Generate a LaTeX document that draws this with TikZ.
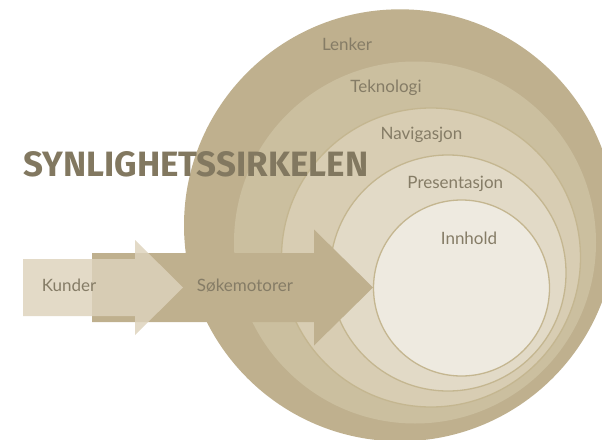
\documentclass[tikz,border=0pt]{standalone}
\usepackage{fontspec}
\setmainfont{Lato}
\definecolor{ringA}{HTML}{BFB08E}
\definecolor{ringB}{HTML}{CBBF9F}
\definecolor{ringC}{HTML}{D8CDB3}
\definecolor{ringD}{HTML}{E2DAC7}
\definecolor{ringE}{HTML}{EEEAE0}
\definecolor{ringline}{HTML}{C4B690}
\definecolor{kunderfill}{HTML}{DDD2BC}
\definecolor{labeltext}{HTML}{857C66}
\definecolor{titletext}{HTML}{827860}
\begin{document}
\begin{tikzpicture}[x=1pt,y=-1pt,
  ring/.style={circle, inner sep=0pt, outer sep=0pt},
  ringedge/.style={ring, draw=ringline, line width=1.3pt},
  lbl/.style={anchor=base, inner sep=0pt, text=labeltext, font=\fontsize{17}{17}\selectfont}]
\useasboundingbox (0,0) rectangle (602,439);
\clip (0,0) rectangle (602,439);
% rings
\node[ring, fill=ringA, minimum size=432pt] (lenkerring) at (400,225.3) {};
\node[ring, fill=ringB, minimum size=362pt] (teknologiring) at (415,242.5) {};
\node[ringedge, fill=ringC, minimum size=299pt] (navigasjonring) at (431,257.5) {};
\node[ringedge, fill=ringD, minimum size=236pt] (presentasjonring) at (448,273) {};
\node[ringedge, fill=ringE, minimum size=176pt] (innholdring) at (461.5,288) {};
% Søkemotorer arrow
\coordinate (sTailTop) at (92,253);
\coordinate (sTailBot) at (92,322);
\coordinate (sTip) at (innholdring.west);
\fill[ringA] (sTailTop) -- (314,253) -- (314,229.5) -- (373,287.5) -- (314,345.5) -- (314,322) -- (sTailBot) -- cycle;
% Kunder arrow
\coordinate (kTailTop) at (23,259);
\coordinate (kTailBot) at (23,316);
\fill[kunderfill, fill opacity=0.83] (kTailTop) -- (135,259) -- (135,240) -- (183,287.5) -- (135,335) -- (135,316) -- (kTailBot) -- cycle;
% title
\node[anchor=south west, inner sep=0pt, text=titletext] (title) at (23,177)
  {\resizebox{345pt}{25pt}{\fontspec{Fira Sans}\bfseries SYNLIGHETSSIRKELEN}};
% labels
\node[lbl] (lenker) at (347,50) {Lenker};
\node[lbl] (teknologi) at (386,92.3) {Teknologi};
\node[lbl] (navigasjon) at (421.5,139.3) {Navigasjon};
\node[lbl] (presentasjon) at (455.3,188.3) {Presentasjon};
\node[lbl] (innhold) at (469,244) {Innhold};
\node[lbl] (sokemotorer) at (245,291.7) {Søkemotorer};
\node[lbl] (kunder) at (69,291.7) {Kunder};
\end{tikzpicture}
\end{document}
